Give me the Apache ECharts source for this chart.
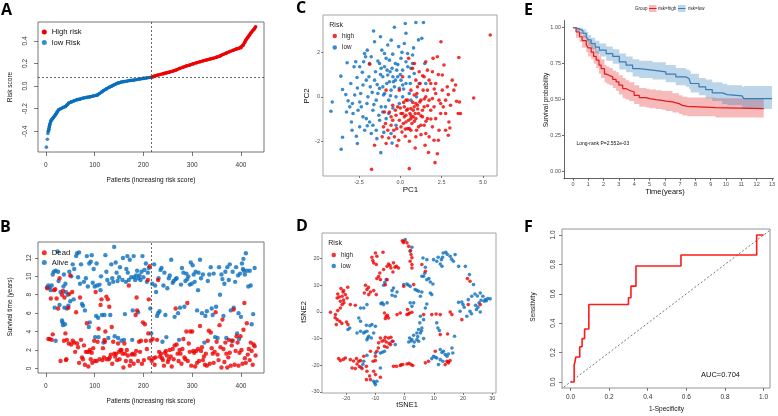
<!DOCTYPE html>
<html><head><meta charset="utf-8">
<script src="https://cdn.jsdelivr.net/npm/echarts@6/dist/echarts.min.js"></script>
<style>html,body{margin:0;padding:0;background:#fff}#c{width:778px;height:416px}</style>
</head><body><div id="c"></div>
<script>
// ---------- Panel A: risk score curve ----------
const lowHeadPatient = [1, 3, 4];
const lowHeadScore = [-0.54, -0.47, -0.42];
const lowPatient = [5,6,7,8,10,12,15,18,20,23,26,30,35,40,44,47,52,58,64,70,77,84,90,97,105,110,115,118,124,130,135,140,145,149,155,160,167,173,180,187,193,200,206,212,217];
const lowScore = [-0.40,-0.385,-0.36,-0.34,-0.31,-0.295,-0.28,-0.265,-0.25,-0.23,-0.21,-0.20,-0.19,-0.18,-0.165,-0.15,-0.14,-0.13,-0.12,-0.115,-0.105,-0.10,-0.095,-0.088,-0.08,-0.065,-0.05,-0.04,-0.025,-0.01,0.0,0.012,0.022,0.03,0.036,0.04,0.045,0.05,0.053,0.058,0.063,0.068,0.072,0.076,0.078];
const highPatient = [218,222,228,234,241,247,254,261,267,274,281,288,295,302,309,316,323,330,337,343,350,357,363,370,377,384,390,396,400,404,408,411,414,417,421,424,427,430];
const highScore = [0.08,0.088,0.095,0.103,0.11,0.117,0.125,0.133,0.143,0.155,0.167,0.178,0.187,0.197,0.207,0.216,0.224,0.232,0.24,0.246,0.256,0.266,0.28,0.292,0.305,0.317,0.327,0.335,0.34,0.36,0.39,0.415,0.43,0.45,0.474,0.49,0.505,0.524];
const cutPatient = 217;
const cutScore = 0.078;

// ---------- Panel B: survival status ----------
const deadPts = [[3,8.7],[5,3.2],[8,3.2],[10,7.6],[12,3.1],[14,3.7],[17,8.5],[19,8.6],[22,7.6],[25,6.5],[28,9.8],[30,0.8],[33,8.0],[35,8.4],[37,3.0],[38,7.7],[40,3.8],[41,0.9],[42,1.0],[43,3.1],[46,6.6],[47,2.7],[48,8.1],[50,10.1],[52,2.6],[54,8.3],[55,3.0],[58,2.8],[60,1.8],[62,6.1],[64,2.7],[66,2.3],[68,0.6],[70,7.7],[72,3.1],[74,1.2],[76,1.0],[78,2.5],[80,0.4],[82,1.8],[84,4.9],[85,1.8],[87,0.2],[89,1.8],[90,2.0],[92,1.0],[94,1.7],[95,0.6],[97,2.2],[99,3.0],[100,0.8],[102,8.3],[104,0.8],[106,2.9],[108,4.3],[110,1.0],[112,6.9],[114,7.5],[116,0.9],[117,2.2],[119,1.2],[120,3.1],[121,2.9],[122,4.0],[124,7.8],[125,1.0],[127,7.5],[129,1.0],[130,6.7],[131,1.2],[133,1.5],[135,4.5],[136,0.5],[138,2.9],[140,1.6],[142,1.3],[144,1.6],[146,0.9],[148,2.7],[150,1.8],[151,1.0],[153,2.0],[155,2.0],[157,1.6],[159,0.1],[161,2.7],[162,1.6],[164,0.8],[166,2.0],[168,1.4],[170,9.0],[172,0.3],[174,0.8],[176,1.5],[178,1.6],[180,0.5],[182,1.5],[184,5.8],[185,1.9],[186,7.7],[187,6.3],[189,0.8],[191,2.9],[193,1.8],[195,3.0],[197,0.5],[199,5.0],[201,0.9],[203,4.8],[205,3.0],[207,2.1],[209,9.6],[210,3.8],[211,7.5],[212,1.1],[213,11.1],[215,3.0],[217,0.8],[219,3.2],[221,1.1],[223,0.4],[225,1.2],[228,3.1],[230,9.6],[232,1.8],[234,1.3],[236,1.6],[238,1.1],[240,0.9],[242,0.3],[244,1.7],[246,1.9],[248,1.4],[250,0.7],[252,1.0],[254,2.0],[256,1.3],[258,0.2],[260,2.1],[262,1.0],[264,2.5],[266,6.5],[268,2.6],[270,1.6],[272,0.8],[274,2.0],[276,1.6],[278,0.5],[280,2.1],[282,3.2],[284,1.2],[286,1.0],[288,4.0],[290,7.1],[291,0.8],[293,2.7],[295,1.8],[296,4.0],[298,0.3],[300,4.0],[302,1.9],[304,1.7],[306,0.2],[308,1.9],[310,0.6],[312,2.1],[314,0.8],[316,4.6],[318,1.9],[320,2.3],[322,0.9],[324,1.3],[326,0.4],[328,1.6],[330,0.3],[332,3.0],[334,4.1],[336,0.5],[338,3.9],[340,2.2],[342,1.6],[344,0.6],[346,1.8],[348,6.1],[350,2.9],[352,1.5],[354,0.9],[356,4.7],[358,2.3],[360,0.1],[362,5.3],[364,2.1],[366,0.7],[368,2.8],[370,1.6],[372,0.1],[374,1.2],[375,3.1],[377,1.7],[379,0.3],[381,2.5],[383,3.0],[385,6.4],[387,0.4],[389,1.9],[391,3.5],[393,2.8],[395,0.3],[397,1.7],[399,3.5],[401,2.0],[403,0.5],[405,4.2],[407,7.1],[408,1.1],[410,0.6],[412,4.9],[414,1.5],[416,2.1],[418,0.9],[420,2.8],[422,1.9],[424,0.4],[426,2.6],[428,2.4],[430,1.4]];
const alivePts = [[2,8.8],[5,9.0],[8,8.8],[10,8.5],[12,9.0],[14,10.2],[16,10.5],[18,6.6],[20,3.0],[20,10.6],[24,12.7],[25,10.5],[26,9.5],[28,6.9],[30,8.3],[33,5.2],[34,5.0],[35,4.7],[36,8.9],[37,10.2],[38,6.6],[39,4.8],[40,9.2],[41,8.3],[43,6.5],[45,8.0],[46,6.8],[48,10.5],[50,7.3],[52,10.0],[55,11.3],[57,7.5],[58,10.8],[62,12.2],[64,12.5],[66,9.9],[68,12.6],[70,9.2],[72,11.3],[74,7.0],[76,6.8],[78,9.4],[80,6.3],[82,9.8],[84,12.2],[86,8.9],[88,4.5],[89,11.4],[90,5.0],[92,11.6],[94,12.3],[96,9.3],[98,10.8],[100,8.9],[101,3.4],[103,5.7],[104,11.4],[105,9.0],[107,5.5],[108,3.4],[110,9.1],[112,8.5],[113,10.0],[115,5.8],[118,2.8],[120,5.8],[122,12.3],[124,10.5],[126,9.6],[128,3.3],[130,9.2],[132,5.8],[134,11.3],[136,9.8],[138,9.4],[140,13.2],[141,3.5],[143,11.5],[145,10.4],[147,9.5],[148,3.3],[150,9.9],[152,11.0],[155,3.0],[157,9.6],[158,12.0],[160,3.1],[162,5.9],[164,9.4],[165,10.8],[167,12.2],[168,10.4],[170,9.6],[172,11.8],[175,9.9],[177,3.1],[178,6.3],[180,12.2],[181,9.9],[183,9.6],[185,10.1],[187,10.6],[189,6.1],[190,9.8],[192,10.1],[194,9.6],[196,10.5],[198,12.2],[200,9.9],[202,10.7],[205,11.4],[207,9.4],[209,10.4],[211,10.9],[214,6.5],[216,3.8],[218,9.2],[222,11.3],[224,9.0],[226,8.3],[228,5.7],[230,6.0],[231,9.8],[233,6.2],[235,10.7],[237,10.9],[239,2.9],[241,9.0],[243,10.4],[245,5.8],[247,3.4],[249,8.7],[252,9.8],[254,10.1],[257,11.8],[260,9.3],[262,9.5],[264,5.6],[266,9.7],[268,9.8],[271,6.0],[273,3.1],[275,6.6],[277,9.1],[279,10.9],[282,10.4],[284,6.7],[286,9.5],[288,10.3],[290,9.7],[292,10.0],[295,9.1],[297,11.5],[299,9.2],[301,11.2],[303,10.2],[305,9.4],[307,10.5],[310,6.3],[312,8.5],[313,10.4],[316,11.8],[318,9.8],[320,6.0],[322,10.2],[325,2.8],[327,5.7],[330,6.2],[332,9.5],[335,10.2],[338,11.0],[340,6.5],[342,5.8],[344,10.3],[347,3.4],[349,6.7],[352,3.3],[355,11.0],[357,8.0],[360,10.2],[362,9.7],[364,5.7],[366,9.2],[368,10.5],[370,3.3],[372,11.0],[375,9.6],[377,11.3],[379,6.3],[381,3.0],[383,10.5],[385,6.6],[388,9.4],[390,11.0],[392,3.8],[394,10.1],[395,6.0],[396,3.2],[398,10.3],[400,5.6],[402,11.4],[404,10.8],[405,11.9],[406,10.6],[408,10.2],[410,12.5],[412,10.6],[415,8.9],[418,10.6],[420,9.0],[422,4.8],[425,5.9],[428,10.9]];

// ---------- Panel C: PCA ----------
const pcaLow = [[-4.2,-0.65],[-4.12,-0.23],[-3.6,0.93],[-3.5,0.33],[-3.5,-1.82],[-3.58,-2.36],[-3.22,1.53],[-3.16,-0.18],[-3.26,-0.68],[-2.96,-1.13],[-2.92,-1.5],[-2.7,1.58],[-2.62,0.87],[-2.66,-1.77],[-2.6,-2.1],[-2.76,0.08],[-2.46,1.35],[-2.4,0.15],[-2.36,-0.45],[-2.26,-0.9],[-2.16,1.95],[-2.1,1.8],[-2.06,0.75],[-2.02,-0.3],[-1.86,1.5],[-1.82,0.45],[-1.76,-1.65],[-1.66,-1.28],[-1.62,2.96],[-1.56,2.48],[-1.5,1.13],[-1.46,-0.15],[-1.42,-1.88],[-1.36,1.61],[-1.3,-0.83],[-1.26,0.38],[-1.18,-2.51],[-1.12,2.1],[-1.06,0.9],[-1.02,0.08],[-0.96,1.35],[-0.9,-0.45],[-0.86,1.73],[-0.82,0.6],[-0.76,2.33],[-0.7,-0.15],[-0.62,1.13],[-0.56,0.3],[-0.5,-2.08],[-0.46,1.92],[-0.42,0.68],[-0.36,3.13],[-0.3,1.5],[-0.26,0.0],[-0.16,0.9],[-0.1,2.26],[-0.06,0.38],[0.04,1.73],[0.14,1.2],[0.24,2.4],[0.3,3.3],[0.34,2.86],[0.34,0.6],[0.44,1.95],[0.54,0.9],[0.64,1.28],[0.74,1.5],[0.84,1.05],[0.94,3.34],[1.1,2.56],[1.14,0.6],[1.3,2.63],[1.4,3.34],[1.48,1.5],[1.54,0.6],[-0.26,-1.28],[-0.56,-1.65],[-0.86,-0.98],[-1.66,-0.6],[-2.06,-0.98],[-2.46,-1.35],[-3.06,-0.45],[0.14,0.0],[0.54,0.15],[-0.06,-0.3],[-1.26,1.5],[-1.16,1.28],[-0.66,1.65],[-0.5,1.28],[-0.22,1.2],[0.04,0.75],[-1.56,0.75],[-2.26,0.53],[-1.76,1.8],[-2.22,1.58],[-2.8,1.35],[-1.06,0.45],[-1.36,0.15],[-0.66,0.68],[-0.36,0.45],[-0.76,0.98],[-0.96,1.95],[0.14,0.53],[0.74,1.88],[0.34,1.58],[0.98,0.0],[0.64,-0.15],[-1.96,0.0],[-2.46,-0.23],[-2.86,-0.75],[-2.56,-0.6],[-2.16,-1.5],[-1.86,-1.13],[-1.46,-1.5],[-1.16,-0.45],[-1.06,-0.68],[-1.9,0.9],[-1.7,0.2],[-1.4,0.55],[-1.2,1.0],[-0.95,0.15],[-0.8,1.2],[-0.6,0.05],[-0.45,0.9],[-0.3,0.75],[-0.15,1.45],[0.0,1.0],[0.2,0.35],[0.45,1.35],[0.6,0.6],[-2.3,1.1],[-2.6,0.4],[-2.9,-0.3],[-1.6,-0.35],[-1.25,-1.05],[-0.7,-0.75],[-0.45,-0.5],[0.1,2.0],[-0.55,2.55],[-1.2,2.7],[-2.0,2.1],[-3.3,0.1],[-3.0,0.6],[-1.0,-1.6],[-2.0,-1.3],[0.8,2.2]];
const pcaHigh = [[5.44,2.78],[4.44,-0.05],[3.54,1.77],[3.58,-0.23],[3.5,-0.75],[3.64,-0.75],[3.34,0.53],[3.24,0.3],[3.14,0.75],[2.94,-1.13],[2.9,-1.73],[2.84,0.45],[2.74,-0.15],[2.64,1.43],[2.54,0.98],[2.46,2.48],[2.44,-0.75],[2.34,-1.5],[2.3,-1.95],[2.24,-2.56],[2.1,-2.96],[2.24,1.8],[2.14,0.15],[2.04,-0.45],[1.98,1.73],[1.94,1.13],[1.84,0.6],[1.74,-0.15],[1.64,-0.98],[1.54,-1.65],[1.5,-2.18],[1.44,0.9],[1.38,0.3],[1.34,-0.6],[1.24,-1.28],[1.18,-0.23],[1.1,-0.75],[1.04,0.45],[0.98,-1.5],[0.94,-1.8],[0.9,-2.3],[0.84,-0.45],[0.78,-0.9],[0.7,-1.2],[0.64,-0.53],[0.58,-0.75],[0.54,-3.23],[0.5,-1.05],[0.44,-1.43],[0.38,-0.6],[0.34,-0.15],[0.3,-1.77],[0.24,-0.9],[0.18,-1.2],[0.1,-1.58],[0.04,-0.75],[-0.06,-1.05],[-0.1,-1.95],[-0.16,-0.45],[-0.26,-0.83],[-0.36,-1.8],[-0.46,-1.05],[-0.56,-1.28],[-0.66,-0.68],[-0.76,-1.5],[-0.86,-2.1],[-0.9,-1.2],[-0.96,-0.68],[-1.02,-1.35],[-1.1,-1.8],[-1.56,-2.18],[-1.74,-3.26],[-1.86,1.47],[0.5,1.73],[0.74,1.28],[0.94,0.75],[1.14,1.13],[1.54,1.58],[1.64,1.2],[1.74,0.75],[-0.06,0.3],[-0.46,-0.38],[-0.86,0.3],[0.14,0.9],[2.74,-0.75],[3.04,-0.38],[2.54,0.3],[2.34,-0.15],[2.14,-0.98],[1.94,-1.35],[1.84,-0.6],[1.74,-1.8],[1.54,0.0],[1.34,-0.9],[1.24,-0.15],[1.1,-1.35],[0.94,-0.98],[0.78,-0.6],[0.64,-0.98],[0.54,-1.43],[0.44,-0.15],[0.34,-0.83],[0.24,-0.45],[0.04,-1.35],[-0.22,-1.43],[-0.3,-0.6],[-0.56,-0.9],[0.64,0.3],[0.84,0.08],[1.04,-0.38],[1.44,-0.45],[1.64,0.3],[1.94,-0.08],[2.14,0.6],[2.44,-0.3],[2.74,-1.5],[2.04,-1.95],[1.44,-1.28],[0.94,-0.3],[0.34,-1.13],[0.64,-1.5],[0.14,-0.75],[0.2,-0.25],[0.45,-0.55],[0.65,-0.85],[0.85,-1.1],[1.05,-0.55],[1.25,-0.85],[1.45,-0.1],[1.65,-0.4],[1.85,-1.0],[2.05,0.35],[0.3,-1.45],[0.55,-2.0],[0.75,-0.25],[1.0,0.15],[1.2,0.6],[1.55,-1.1],[-0.4,-1.5],[-0.2,-2.2],[0.0,-0.5],[2.6,-0.45],[2.9,0.1],[3.0,-1.4],[1.7,-2.5],[1.25,-1.7],[0.85,1.5],[2.3,1.0],[3.4,-0.2],[-0.7,-1.85],[0.9,-0.75],[1.35,0.95]];

// ---------- Panel D: t-SNE ----------
const tsneHigh = [[-0.8,26.7],[-0.3,26.5],[0.8,25.9],[1.4,24.6],[2.2,21.5],[2.5,20.3],[1.9,19],[2.5,17.8],[2.5,16.5],[-11.2,20.5],[-10,22.1],[-9.5,20.9],[-7.4,22.4],[-10.6,18.4],[-9.7,17.8],[-8.5,14.6],[-7.2,15.9],[-6,17.1],[-5.5,18],[-4.7,16.5],[-3.8,18.4],[-2.8,17.1],[-2.1,16.5],[-4,15],[-9.5,12.5],[-8.3,12.1],[-6,12.1],[-6.6,10.2],[-21.8,8.75],[-21.1,7.5],[-22.9,6.75],[-23.1,5.25],[-22,4],[-20.3,6.5],[-19.7,5.25],[-20.8,3.4],[-21.4,2.75],[-18.6,2.75],[-16.9,2.5],[-25.4,-0.1],[-23.7,-1],[-23.1,-2.9],[-22.2,-3.5],[-23.4,-4.75],[-19.9,-3.75],[-19.4,-4.75],[-22,1.5],[-22.9,0.5],[-19.5,9.25],[-21.4,5.9],[-13.4,10],[-12.9,8.4],[-13.8,7.1],[-11.7,7.5],[-10.6,8],[-9.7,6.5],[-12.3,6.5],[-6.9,-0.4],[-6.3,-1.6],[-5.5,-2.25],[-6.6,-2.5],[-2.6,-1],[-1.5,-0.4],[0.8,-1],[1.7,-0.4],[2.5,-0.1],[1,0.9],[-8.3,-9.75],[-7.7,-11],[-6.6,-9.5],[-5.5,-9.75],[-4.7,-9.5],[-4,-11],[-4.8,-12.25],[-6.3,-11.25],[-6.9,-12.9],[-6,-13.25],[-8.9,-11.6],[-9.5,-14.75],[-11.7,-14.75],[-10,-16.6],[-10.8,-18.5],[-10,-18.25],[-22.6,-17.5],[-22,-18.25],[-20.3,-17.25],[-18.6,-17.9],[-16.5,-17.5],[-15.7,-18.5],[-16.3,-19.5],[-15.1,-18.25],[-18,-21],[-16.9,-21.25],[-14.6,-21.25],[-13.1,-20.4],[-12.9,-22.25],[-13.1,-25.4],[-11.7,-25.4],[-10.6,-22.25],[-10,-23.5],[-8.3,-24.5],[-14,-16.6],[-3.8,-20.4],[-2.8,-20.4],[-1.5,-20.1],[-0.6,-19.75],[0.8,-19.5],[2.2,-19.75],[2.8,-20.1],[7.1,-19.1],[8.2,-18.5],[10.5,-14.75],[14.5,-18.5],[15,-19.1],[15.6,-18.25],[13.9,-19.75],[9.3,-1],[10.8,-0.75],[12.2,-1],[15.6,0],[16.2,-1],[12.2,-8.5],[14.7,-8.25],[6.5,-1],[21.5,12.5],[22.4,11.5],[21.8,2.75],[19.6,-2.9],[25.9,2.75],[5.9,17.8],[7.1,15.25],[3.1,10.25],[-0.3,9.6],[-20.9,8.0],[-22.4,5.6],[-20.9,4.5],[-23.8,-2.2],[-21.5,-4.3],[-12.4,9.2],[-10.9,19.3],[-8.9,13.3],[-5,17.4],[-3.3,16.8],[-7,-10.5],[-5.3,-11.8],[-9,-13.5],[-21,-17.8],[-17.5,-18.4],[-15.5,-20.5],[-12,-24],[-1.2,-19.8],[1.5,-19.3],[14.9,-18.7],[-0.4,26],[2,23],[-5.9,-1.3],[1.3,-0.8]];
const tsneLow = [[0.2,27.1],[2.5,24.25],[1.9,22.75],[6.3,20.25],[7.6,19.6],[9.9,19.6],[11,19],[12.2,18],[12.8,17.1],[11.5,20.5],[13.2,22.1],[14.1,22.4],[13,20.5],[15.6,20.9],[17.3,21.5],[16.7,19],[18.5,17.1],[20.8,17.1],[22.2,14],[23.6,10.25],[24.1,6.75],[25.9,7.1],[26.8,5.9],[27.6,4.6],[28.5,5],[29.3,4.9],[27.3,4],[25.5,3.4],[24.3,2.5],[24.6,0.9],[25.9,0],[22.4,0.25],[21.3,-1.6],[19,0.25],[18.5,3.6],[19.6,3.75],[20.4,1.75],[21.8,4.6],[23,5.9],[6.5,13.4],[7.6,12.1],[8.8,11.25],[9.7,10.5],[7.1,16.75],[5.9,13.4],[-7.2,10],[-6.3,12.1],[-3.8,9],[-2.6,7.5],[-3.2,5.9],[-4.3,6.25],[-6,3.4],[-7.2,2.75],[-8.1,3.1],[-12.9,2.75],[-14,1.5],[-15.1,1.5],[-15.7,-2.25],[-15.1,-3.5],[-19.4,-6.6],[-18.8,-6],[-0.3,10.25],[0.8,10.5],[1.9,9.6],[3.6,8.4],[4.8,7.75],[5.9,7.5],[5.4,5.9],[8.8,7.1],[9.3,6.5],[1.9,3.4],[3.1,3.4],[2.5,2.1],[7.6,3],[7.1,1.5],[5.4,-1.6],[6.5,-2.9],[5.2,-4.1],[5.9,-6],[4.8,-6.6],[4.2,-7.9],[5.4,-7.9],[3.1,-8.75],[2.5,-10.4],[1.7,-9.75],[1.4,-11.25],[3.3,-11.25],[6.5,-10],[4.2,-10.4],[11,-4.1],[11.4,-6],[11.9,-7],[12.2,-14.1],[13.3,-14.75],[13.9,-16],[15,-15.75],[16.2,-13.5],[16.5,-15.4],[9.9,-16.6],[11,-17.25],[12.2,-17.9],[13.1,-18.5],[9.3,-17.5],[11.6,-19.75],[17.1,-9.1],[-15.1,-7.25],[-14,-7.9],[-12.9,-7.25],[-13.1,-5],[-11.2,-4.75],[-10,-5.4],[-10.6,-7.9],[-12.3,-9.1],[-12.9,-10.4],[-11.4,-9.75],[-8.3,-15.4],[-6.9,-14.75],[-10,-15.4],[-10.6,-26],[-10,-27.25],[-9.5,-26],[-14.9,-20.75],[-14,-18.5],[-12.9,-16.25],[-8.3,-21],[-4.3,-11],[-3.2,-12.25],[3.1,-12.9],[4.8,-11],[-16.3,-7.9],[12.6,19.6],[14.6,21.6],[16.1,19.8],[24.9,6],[26.2,4.4],[28,4.2],[25.1,1.8],[20,2.8],[22.9,-0.7],[8.3,12.5],[6.9,14.5],[-6.8,11],[-4.3,8],[-7.7,3.4],[1.2,10.1],[4.2,8.1],[5.8,-7.1],[4.5,-9.2],[2.2,-10.9],[12.8,-15.2],[14.5,-16.6],[10.5,-17],[-13.6,-7.5],[-11.9,-5.2],[-12.6,-9.8],[-10.3,-26.6],[-14.3,-19.6],[-7.6,-15.1]];

// ---------- Panel E: Kaplan-Meier ----------
const kmHighT  = [0,0.2,0.43,0.6,0.87,1.0,1.19,1.35,1.52,1.7,1.84,2.06,2.2,2.38,2.6,2.82,3.0,3.25,3.45,3.68,4.0,4.33,4.77,5.0,5.42,5.8,6.07,6.5,6.93,7.15,7.48,9.32,12.46];
const kmHighS  = [1,0.97,0.937,0.91,0.88,0.86,0.83,0.80,0.775,0.74,0.716,0.677,0.668,0.658,0.64,0.623,0.60,0.577,0.565,0.553,0.53,0.514,0.507,0.50,0.495,0.49,0.484,0.472,0.46,0.453,0.444,0.437,0.437];
const kmHighLo = [1,0.93,0.90,0.86,0.83,0.80,0.78,0.75,0.72,0.68,0.65,0.62,0.61,0.60,0.58,0.56,0.535,0.51,0.50,0.49,0.47,0.45,0.445,0.44,0.435,0.43,0.42,0.41,0.40,0.39,0.385,0.375,0.375];
const kmHighHi = [1,1.0,0.97,0.95,0.93,0.91,0.89,0.86,0.84,0.80,0.78,0.74,0.73,0.72,0.70,0.69,0.67,0.65,0.635,0.62,0.60,0.58,0.575,0.57,0.565,0.56,0.56,0.545,0.53,0.52,0.515,0.51,0.51];
const kmLowT  = [0,0.2,0.43,0.65,0.87,1.0,1.19,1.45,1.73,2.17,2.6,3.03,3.47,3.9,4.33,5.2,6.07,6.72,7.37,7.58,7.69,8.23,8.67,9.1,9.75,10.08,11.05,11.16,13.0];
const kmLowS  = [1,0.99,0.98,0.96,0.937,0.915,0.89,0.865,0.844,0.82,0.80,0.763,0.74,0.716,0.705,0.693,0.677,0.658,0.647,0.635,0.612,0.588,0.57,0.547,0.535,0.526,0.514,0.507,0.507];
const kmLowLo = [1,0.97,0.955,0.93,0.90,0.875,0.85,0.82,0.80,0.77,0.75,0.71,0.69,0.66,0.65,0.64,0.62,0.60,0.59,0.575,0.55,0.53,0.51,0.49,0.47,0.46,0.44,0.435,0.435];
const kmLowHi = [1,1.0,1.0,0.99,0.97,0.95,0.93,0.91,0.89,0.87,0.85,0.82,0.80,0.78,0.77,0.76,0.74,0.72,0.71,0.70,0.68,0.65,0.64,0.62,0.61,0.60,0.59,0.595,0.595];

// ---------- Panel F: ROC ----------
const rocFpr = [0,0.019,0.019,0.028,0.028,0.048,0.048,0.06,0.06,0.073,0.073,0.095,0.095,0.30,0.30,0.313,0.313,0.339,0.339,0.572,0.572,0.964,0.964,1.0];
const rocTpr = [0,0,0.114,0.114,0.17,0.17,0.24,0.24,0.295,0.295,0.36,0.36,0.527,0.527,0.573,0.573,0.652,0.652,0.789,0.789,0.864,0.864,1.0,1.0];
const aucText = 'AUC=0.704';
const logRankText = 'Long-rank P=2.552e-03';

// tick values
const ticksPatients = [0,100,200,300,400];
const ticksRisk = [-0.4,-0.2,0,0.2,0.4];
const ticksSurv = [0,2,4,6,8,10,12];
const ticksPC1 = [-2.5,0,2.5,5];
const ticksPC2 = [-2,0,2];
const ticksTsne1 = [-20,-10,0,10,20,30];
const ticksTsne2 = [-30,-20,-10,0,10,20];
const ticksTime = [0,1,2,3,4,5,6,7,8,9,10,11,12,13];
const ticksProb = [0,0.25,0.5,0.75,1];
const ticksRoc = [0,0.2,0.4,0.6,0.8,1.0];

// ================= chart =================
const RED = '#EE0000', BLUE = '#0A6EBD';
const KRED = '#E41A1C', KBLUE = '#377EB8';
const FONT = '"Liberation Sans", Arial, Helvetica, sans-serif';
const zip = (a, b) => a.map((v, i) => [v, b[i]]);

function ax(o) {
  return {
    type: 'value', gridIndex: o.g, min: o.min, max: o.max, position: o.pos,
    splitLine: { show: false },
    axisLine: { show: !!o.line, onZero: false, lineStyle: { color: o.lc || '#222', width: o.lw || 0.7 } },
    axisTick: { show: true, inside: false, length: o.tl || 3, customValues: o.ticks, lineStyle: { color: o.tc || '#444', width: 0.7 } },
    axisLabel: { customValues: o.ticks, formatter: o.fmt, fontSize: o.fs, color: o.col || '#333', margin: o.m, rotate: o.rot || 0, fontFamily: FONT }
  };
}
const gBox = (l, t, w, h, c) => ({ left: l, top: t, width: w, height: h, show: true, borderColor: c, borderWidth: 0.9, backgroundColor: 'transparent' });

const grids = [
  gBox(38, 22, 226, 130, '#666'),      // A
  gBox(38, 242, 226, 131, '#666'),     // B
  gBox(323, 15, 174, 161, '#9a9a9a'),  // C
  gBox(322, 233, 174, 160, '#9a9a9a'), // D
  { left: 564, top: 20.5, width: 210.5, height: 158.2, show: false }, // E
  gBox(562, 229, 208, 159, '#888')     // F
];

const fmtInt = v => String(v);
const fmt1 = v => (v === 0 ? '0.0' : v.toFixed(1));
const xAxes = [
  ax({ g: 0, min: -16.2, max: 447.2, ticks: ticksPatients, fmt: fmtInt, fs: 6.5, m: 9.5, tl: 4 }),
  ax({ g: 1, min: -16.2, max: 447.2, ticks: ticksPatients, fmt: fmtInt, fs: 6.5, m: 9.5, tl: 4 }),
  ax({ g: 2, min: -4.68, max: 5.85, ticks: ticksPC1, fmt: fmt1, fs: 5.5, m: 3, tl: 2, col: '#4d4d4d' }),
  ax({ g: 3, min: -28.3, max: 31.3, ticks: ticksTsne1, fmt: fmtInt, fs: 5.5, m: 2, tl: 2, col: '#4d4d4d' }),
  ax({ g: 4, min: -0.585, max: 13.1, ticks: ticksTime, fmt: fmtInt, fs: 5.5, m: 2.5, tl: 2, line: true, col: '#4d4d4d', tc: '#222' }),
  ax({ g: 5, min: -0.044, max: 1.033, ticks: ticksRoc, fmt: fmt1, fs: 6.5, m: 6, tl: 3 })
];
const yAxes = [
  ax({ g: 0, min: -0.583, max: 0.567, ticks: ticksRisk, fmt: fmt1, fs: 6.5, m: 9, tl: 4, rot: 90 }),
  ax({ g: 1, min: -0.5, max: 13.73, ticks: ticksSurv, fmt: fmtInt, fs: 6.5, m: 5, tl: 3, rot: 90 }),
  ax({ g: 2, min: -3.56, max: 3.68, ticks: ticksPC2, fmt: fmtInt, fs: 5.5, m: 3, tl: 2, col: '#4d4d4d' }),
  ax({ g: 3, min: -30.4, max: 29.6, ticks: ticksTsne2, fmt: fmtInt, fs: 5.5, m: 2.5, tl: 2, col: '#4d4d4d' }),
  ax({ g: 4, min: -0.05, max: 1.05, ticks: ticksProb, fmt: v => v.toFixed(2), fs: 5.5, m: 3, tl: 2, line: true, col: '#4d4d4d', tc: '#222' }),
  ax({ g: 5, min: -0.041, max: 1.041, ticks: ticksRoc, fmt: fmt1, fs: 6.5, m: 5, tl: 3, rot: 90 })
];

const dash = { type: [2, 2], color: '#444', width: 0.8 };
const sc = (name, g, data, color, size) => ({ type: 'scatter', name, xAxisIndex: g, yAxisIndex: g, data, symbolSize: size, itemStyle: { color }, silent: true });

// confidence band drawn as one step polygon through the axis scales
function band(t, lo, hi, color) {
  return {
    type: 'custom', xAxisIndex: 4, yAxisIndex: 4, silent: true, z: 1,
    data: t.map((v, i) => [v, lo[i], hi[i]]),
    encode: { x: 0, y: [1, 2] },
    renderItem: (params, api) => {
      if (params.dataIndex !== 0) return null;
      const top = [], bot = [];
      for (let i = 0; i < t.length; i++) {
        const x0 = t[i], x1 = i + 1 < t.length ? t[i + 1] : t[i];
        top.push(api.coord([x0, hi[i]]), api.coord([x1, hi[i]]));
        bot.push(api.coord([x0, lo[i]]), api.coord([x1, lo[i]]));
      }
      return { type: 'polygon', shape: { points: top.concat(bot.reverse()) }, style: { fill: color } };
    }
  };
}

const series = [
  // A
  { type: 'scatter', name: 'low Risk', xAxisIndex: 0, yAxisIndex: 0, data: zip(lowHeadPatient, lowHeadScore), symbolSize: 3.6, itemStyle: { color: BLUE } },
  { type: 'line', name: 'low Risk', xAxisIndex: 0, yAxisIndex: 0, data: zip(lowPatient, lowScore), symbol: 'circle', symbolSize: 3.6, showSymbol: true, itemStyle: { color: BLUE }, lineStyle: { color: BLUE, width: 3.2 } },
  { type: 'line', name: 'High risk', xAxisIndex: 0, yAxisIndex: 0, data: zip(highPatient, highScore), symbol: 'circle', symbolSize: 3.6, showSymbol: true, itemStyle: { color: RED }, lineStyle: { color: RED, width: 3.2 },
    markLine: { silent: true, symbol: 'none', label: { show: false }, lineStyle: dash, data: [{ xAxis: cutPatient }, { yAxis: cutScore }] } },
  // B
  sc('Alive', 1, alivePts, BLUE, 4.4),
  Object.assign(sc('Dead', 1, deadPts, RED, 4.4), { markLine: { silent: true, symbol: 'none', label: { show: false }, lineStyle: dash, data: [{ xAxis: cutPatient }] } }),
  // C
  sc('low', 2, pcaLow, BLUE, 3.6),
  sc('high', 2, pcaHigh, RED, 3.6),
  // D
  sc('low', 3, tsneLow, BLUE, 3.6),
  sc('high', 3, tsneHigh, RED, 3.6),
  // E bands + lines
  band(kmHighT, kmHighLo, kmHighHi, 'rgba(228,26,28,0.30)'),
  band(kmLowT, kmLowLo, kmLowHi, 'rgba(55,126,184,0.33)'),
  { type: 'line', name: 'risk=high', xAxisIndex: 4, yAxisIndex: 4, data: zip(kmHighT, kmHighS), step: 'end', showSymbol: false, lineStyle: { color: KRED, width: 1.2 }, silent: true, z: 3 },
  { type: 'line', name: 'risk=low', xAxisIndex: 4, yAxisIndex: 4, data: zip(kmLowT, kmLowS), step: 'end', showSymbol: false, lineStyle: { color: KBLUE, width: 1.2 }, silent: true, z: 3 },
  // F
  { type: 'line', xAxisIndex: 5, yAxisIndex: 5, data: [[-0.1, -0.1], [1.1, 1.1]], showSymbol: false, lineStyle: { type: [2, 2], color: '#555', width: 0.8 }, clip: true, silent: true },
  { type: 'line', name: 'ROC', xAxisIndex: 5, yAxisIndex: 5, data: zip(rocFpr, rocTpr), showSymbol: false, lineStyle: { color: '#FF1A1A', width: 1.6 }, silent: true }
];

const legendBase = { orient: 'vertical', icon: 'circle', itemWidth: 5, itemHeight: 5, padding: 0, selectedMode: false };
const legends = [
  Object.assign({}, legendBase, { left: 41.8, top: 27.5, itemGap: 1.5, data: ['High risk', 'low Risk'], textStyle: { fontSize: 7.7, fontFamily: FONT, color: '#111', lineHeight: 9 } }),
  Object.assign({}, legendBase, { left: 41.8, top: 248.2, itemGap: 0.8, data: ['Dead', 'Alive'], textStyle: { fontSize: 7.7, fontFamily: FONT, color: '#111', lineHeight: 9 } }),
  Object.assign({}, legendBase, { left: 332.5, top: 32, itemGap: 3.5, itemWidth: 4.5, itemHeight: 4.5, data: ['high', 'low'], textStyle: { fontSize: 6.3, fontFamily: FONT, color: '#222', lineHeight: 8 } }),
  Object.assign({}, legendBase, { left: 331.5, top: 251, itemGap: 3, itemWidth: 4.5, itemHeight: 4.5, data: ['high', 'low'], textStyle: { fontSize: 6.3, fontFamily: FONT, color: '#222', lineHeight: 8 } })
];

const T = (text, x, y, size, opts = {}) => ({
  type: 'text', x, y, rotation: opts.rot || 0, silent: true, z: 100,
  style: { text, fontSize: size, fontFamily: opts.ff || FONT, fontWeight: opts.fw || 'normal', fill: opts.fill || '#111', align: opts.align || 'center', verticalAlign: 'middle' }
});
const LETTER = '"Open Sans", "Liberation Sans", Arial, sans-serif';
const graphics = [
  T('A', 1, 10, 16, { fw: 'bold', ff: LETTER, align: 'left', fill: '#000' }),
  T('B', 0, 227, 16, { fw: 'bold', ff: LETTER, align: 'left', fill: '#000' }),
  T('C', 296, 8, 16, { fw: 'bold', ff: LETTER, align: 'left', fill: '#000' }),
  T('D', 296, 226, 16, { fw: 'bold', ff: LETTER, align: 'left', fill: '#000' }),
  T('E', 524, 10, 16, { fw: 'bold', ff: LETTER, align: 'left', fill: '#000' }),
  T('F', 524, 227, 16, { fw: 'bold', ff: LETTER, align: 'left', fill: '#000' }),
  // axis titles
  T('Risk score', 10, 87, 6.5, { rot: Math.PI / 2 }),
  T('Patients (increasing risk score)', 151, 180, 6.5),
  T('Survival time (years)', 10, 307, 6.5, { rot: Math.PI / 2 }),
  T('Patients (increasing risk score)', 151, 401, 6.5),
  T('PC2', 307, 96, 8, { rot: Math.PI / 2 }),
  T('PC1', 410.5, 190, 8),
  T('tSNE2', 303.5, 312, 7.5, { rot: Math.PI / 2 }),
  T('tSNE1', 407, 405, 7.5),
  T('Survival probability', 546.5, 100, 6.5, { rot: Math.PI / 2 }),
  T('Time(years)', 665, 192, 7.5),
  T('Sensitivity', 533, 307, 6.5, { rot: Math.PI / 2 }),
  T('1-Specificity', 666.5, 409, 6.5),
  // legend titles
  T('Risk', 329.3, 25, 7, { align: 'left', fill: '#222' }),
  T('Risk', 328.3, 243, 7, { align: 'left', fill: '#222' }),
  // annotations
  T(logRankText, 576.5, 143.5, 5, { align: 'left' }),
  T(aucText, 701, 374.5, 7.5, { align: 'left' }),
  // KM legend
  T('Group', 635, 8.5, 4.5, { align: 'left', fill: '#222' }),
  { type: 'rect', shape: { x: 649, y: 5, width: 7.5, height: 7 }, style: { fill: 'rgba(228,26,28,0.3)' }, silent: true },
  { type: 'line', shape: { x1: 649, y1: 8.5, x2: 656.5, y2: 8.5 }, style: { stroke: KRED, lineWidth: 1 }, silent: true },
  T('risk=high', 658, 8.5, 4.5, { align: 'left', fill: '#222' }),
  { type: 'rect', shape: { x: 678, y: 5, width: 7.5, height: 7 }, style: { fill: 'rgba(55,126,184,0.33)' }, silent: true },
  { type: 'line', shape: { x1: 678, y1: 8.5, x2: 685.5, y2: 8.5 }, style: { stroke: KBLUE, lineWidth: 1 }, silent: true },
  T('risk=low', 688, 8.5, 4.5, { align: 'left', fill: '#222' })
];

const chart = echarts.init(document.getElementById('c'), null, { renderer: 'canvas' });
chart.setOption({
  animation: false,
  backgroundColor: '#fff',
  grid: grids, xAxis: xAxes, yAxis: yAxes,
  legend: legends,
  series, graphic: graphics
});
</script></body></html>
